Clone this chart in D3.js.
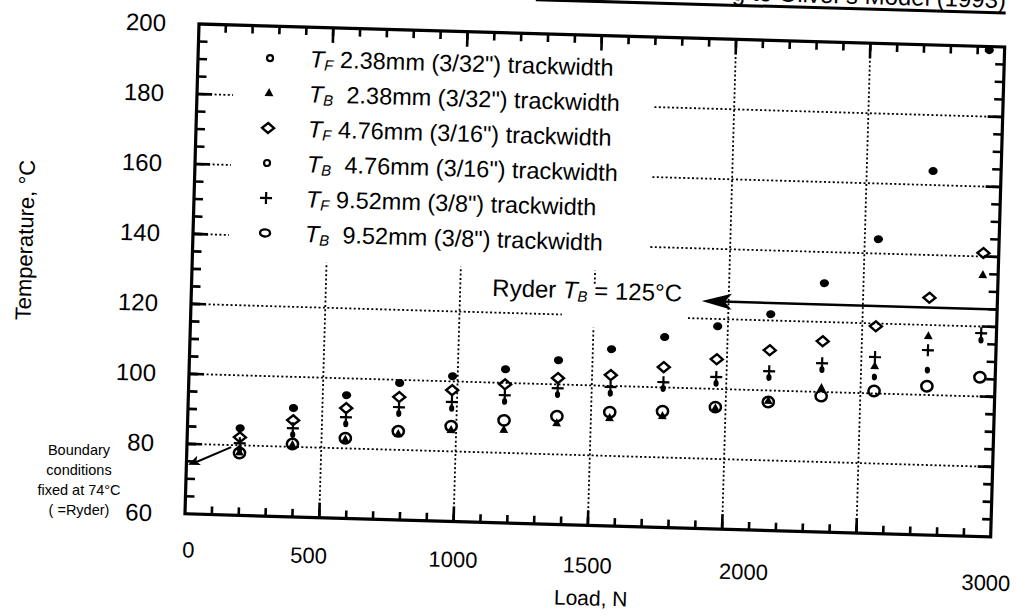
<!DOCTYPE html>
<html><head><meta charset="utf-8">
<script src="https://cdn.jsdelivr.net/npm/d3@7"></script>
<style>
html,body{margin:0;padding:0;background:#fff;}
svg{display:block;font-family:"Liberation Sans",Arimo,Arial,Helvetica,sans-serif;}
</style></head><body>
<svg id="chart" width="1030" height="616"></svg>
<script>
// ---------------- data ----------------
const loads = [196.2, 392.4, 588.6, 784.8, 981, 1177.2, 1373.4, 1569.6, 1765.8, 1962, 2158.2, 2354.4, 2550.6, 2746.8, 2943];
const tF238 = [84.9, 91.1, 95.2, 99.1, 101.5, 103.9, 106.9, 110.5, 114.4, 117.9, 121.8, 131.1, 144.1, 164.0, 199.0];
const tB238 = [78.0, 80.5, 82.5, 84.5, 86.1, 86.6, 88.9, 90.8, 91.8, 94.5, 97.0, 101.1, 107.8, 116.8, 134.7];
const tF476 = [82.3, 87.6, 91.5, 95.1, 97.5, 99.6, 101.8, 103.1, 105.8, 108.5, 111.5, 114.5, 119.2, 127.8, 141.0];
const tB476 = [79.0, 83.5, 87.0, 90.4, 92.3, 94.7, 97.1, 97.9, 99.7, 101.6, 103.7, 106.4, 104.7, 107.1, 116.1];
const tF952 = [80.6, 85.3, 88.9, 92.2, 94.1, 96.5, 98.9, 99.7, 101.5, 103.4, 105.5, 108.2, 110.4, 112.8, 118.1];
const tB952 = [77.8, 80.8, 82.9, 85.3, 87.2, 89.3, 90.9, 92.5, 93.2, 94.8, 96.7, 98.8, 100.7, 102.5, 105.5];

const seriesSub   = ["F", "B", "F", "B", "F", "B"];
const seriesText  = ["2.38mm (3/32\") trackwidth", "2.38mm (3/32\") trackwidth", "4.76mm (3/16\") trackwidth",
                     "4.76mm (3/16\") trackwidth", "9.52mm (3/8\") trackwidth", "9.52mm (3/8\") trackwidth"];
const seriesMarker = ["dot", "tri", "diamond", "sdot", "plus", "ring"];
const seriesValues = [tF238, tB238, tF476, tB476, tF952, tB952];

const xTickLabels = [0, 500, 1000, 1500, 2000, 3000];
const yTickLabels = [60, 80, 100, 120, 140, 160, 180, 200];
const xGrid = [500, 1000, 1500, 2000, 2500];
const yGrid = [80, 100, 120, 140, 160, 180];
const ryderT = 125, ryderArrowFrom = 3000, ryderArrowTo = 1900;
const boundaryT = 74;
const boundaryLines = ["Boundary", "conditions", "fixed at 74°C", "( =Ryder)"];
const titleText = "Temperature Predictions According to Oliver's Model (1993)";

// ---------------- layout ----------------
const W = 806, H = 490;
// hand-placement offsets of the x tick labels in the scanned original (px)
const xLabelShift = {0: [4, 0], 500: [-10, 2], 1000: [0, 2], 1500: [0, 4], 2000: [22, 6], 3000: [-4, 10]};

const svg = d3.select("#chart");
svg.append("rect").attr("width", 1030).attr("height", 616).attr("fill", "#fff");
const g = svg.append("g").attr("transform", "translate(199,24) rotate(1.64)");

const x = d3.scaleLinear().domain([0, 3000]).range([0, W]);
const y = d3.scaleLinear().domain([60, 200]).range([H, 0]);

// grid
const grid = g.append("g").attr("stroke", "#000").attr("stroke-width", 1.8).attr("stroke-dasharray", "2,2.4");
grid.selectAll("line.v").data(xGrid).join("line").attr("class", "v")
  .attr("x1", d => x(d)).attr("x2", d => x(d)).attr("y1", 0).attr("y2", H);
grid.selectAll("line.h").data(yGrid).join("line").attr("class", "h")
  .attr("x1", 0).attr("x2", W).attr("y1", d => y(d)).attr("y2", d => y(d));

// white masks (legend & annotation boxes)
g.append("rect").attr("x", 36).attr("y", 2).attr("width", 420).attr("height", 233).attr("fill", "#fff");
g.append("rect").attr("x", 371).attr("y", y(128.5)).attr("width", 126).attr("height", y(116.5) - y(128.5)).attr("fill", "#fff");

// ticks (inward, all four sides)
function ticks(vals, len, isX) {
  const t = g.append("g").attr("stroke", "#000").attr("stroke-width", 2.6);
  if (isX) {
    t.selectAll("line.b").data(vals).join("line").attr("class", "b")
      .attr("x1", d => x(d)).attr("x2", d => x(d)).attr("y1", H).attr("y2", H - len);
    t.selectAll("line.t").data(vals).join("line").attr("class", "t")
      .attr("x1", d => x(d)).attr("x2", d => x(d)).attr("y1", 0).attr("y2", len);
  } else {
    t.selectAll("line.l").data(vals).join("line").attr("class", "l")
      .attr("y1", d => y(d)).attr("y2", d => y(d)).attr("x1", 0).attr("x2", len);
    t.selectAll("line.r").data(vals).join("line").attr("class", "r")
      .attr("y1", d => y(d)).attr("y2", d => y(d)).attr("x1", W).attr("x2", W - len);
  }
}
ticks(d3.range(100, 3000, 100), 8, true);
ticks(xGrid, 15, true);
ticks(d3.range(65, 200, 5), 9, false);
ticks(yGrid, 15, false);

// frame
g.append("rect").attr("x", 0).attr("y", 0).attr("width", W).attr("height", H)
  .attr("fill", "none").attr("stroke", "#000").attr("stroke-width", 3.2);

// axis labels via d3 axes
const xAxis = g.append("g").attr("transform", `translate(0,${H})`)
  .call(d3.axisBottom(x).tickValues(xTickLabels).tickSize(0).tickPadding(28).tickFormat(d3.format("d")));
xAxis.select(".domain").remove();
xAxis.selectAll("text").attr("font-size", 22).attr("fill", "#000").attr("font-family", null)
  .attr("dx", d => (xLabelShift[d] || [0, 0])[0]).attr("dy", d => 0.71 * 22 + (xLabelShift[d] || [0, 0])[1]);

const yAxis = g.append("g")
  .call(d3.axisLeft(y).tickValues(yTickLabels).tickSize(0).tickPadding(33).tickFormat(d3.format("d")));
yAxis.select(".domain").remove();
yAxis.selectAll("text").attr("font-size", 24).attr("fill", "#000").attr("font-family", null);

g.append("text").attr("x", W / 2 + 5).attr("y", H + 80).attr("text-anchor", "middle")
  .attr("font-size", 21).text("Load, N");
g.append("text").attr("transform", `translate(-160,${H / 2 - 24}) rotate(-90)`)
  .attr("text-anchor", "middle").attr("font-size", 22).text("Temperature, °C");

// title (cut off at top of page, as in the scan)
g.append("text").attr("x", W).attr("y", -39).attr("text-anchor", "end")
  .attr("font-size", 24).text(titleText);
g.append("line").attr("x1", W - 470).attr("x2", W).attr("y1", -34).attr("y2", -34)
  .attr("stroke", "#000").attr("stroke-width", 3);

// markers
function marker(sel, type, cx, cy, legend) {
  const m = sel.append("g").attr("transform", `translate(${cx},${cy})`);
  if (type === "dot") {
    if (legend) m.append("circle").attr("r", 3).attr("fill", "#fff").attr("stroke", "#000").attr("stroke-width", 2.2);
    else m.append("ellipse").attr("rx", 4.6).attr("ry", 4).attr("fill", "#000");
  } else if (type === "sdot") {
    if (legend) m.append("circle").attr("r", 3).attr("fill", "#fff").attr("stroke", "#000").attr("stroke-width", 2.2);
    else m.append("ellipse").attr("rx", 2.6).attr("ry", 3.4).attr("fill", "#000");
  } else if (type === "tri") {
    m.append("path").attr("d", "M0,-5L4.4,3L-4.4,3Z").attr("fill", "#000");
  } else if (type === "diamond") {
    m.append("path").attr("d", "M0,-5L6,0L0,5L-6,0Z").attr("fill", "none")
      .attr("stroke", "#000").attr("stroke-width", 2.4);
  } else if (type === "plus") {
    m.append("path").attr("d", "M-6,0H6M0,-6V6").attr("stroke", "#000").attr("stroke-width", 2.2);
  } else if (type === "ring") {
    if (legend) m.append("ellipse").attr("rx", 5).attr("ry", 3.6).attr("fill", "none").attr("stroke", "#000").attr("stroke-width", 2.4);
    else m.append("ellipse").attr("rx", 5.6).attr("ry", 5.2).attr("fill", "none").attr("stroke", "#000").attr("stroke-width", 2.5);
  }
}

// data
const drawOrder = [5, 1, 3, 4, 2, 0];
const pts = g.append("g");
drawOrder.forEach(si => {
  seriesValues[si].forEach((v, i) => marker(pts, seriesMarker[si], x(loads[i]), y(v), false));
});

// legend
const leg = g.append("g");
seriesText.forEach((t, i) => {
  const cy = 32 + 35 * i;
  marker(leg, seriesMarker[i], 72, cy, true);
  const tx = leg.append("text").attr("x", 112).attr("y", cy + 8).attr("font-size", 23.5).style("white-space", "pre");
  tx.append("tspan").attr("font-style", "italic").text("T");
  tx.append("tspan").attr("font-style", "italic").attr("font-size", 15).attr("dy", 3).text(seriesSub[i]);
  tx.append("tspan").attr("dy", -3).text((seriesSub[i] === "B" ? "  " : " ") + t);
});

// Ryder annotation
const ry = y(ryderT);
g.append("line").attr("x1", x(ryderArrowFrom)).attr("x2", x(ryderArrowTo) + 20).attr("y1", ry).attr("y2", ry)
  .attr("stroke", "#000").attr("stroke-width", 2.6);
g.append("path").attr("transform", `translate(${x(ryderArrowTo)},${ry})`)
  .attr("d", "M0,0L30,-8L23,0L30,8Z").attr("fill", "#000");
const rt = g.append("text").attr("x", x(ryderArrowTo) - 20).attr("y", ry + 1).attr("text-anchor", "end")
  .attr("font-size", 24).style("white-space", "pre");
rt.append("tspan").text("Ryder ");
rt.append("tspan").attr("font-style", "italic").text("T");
rt.append("tspan").attr("font-style", "italic").attr("font-size", 15).attr("dy", 3).text("B");
rt.append("tspan").attr("dy", -3).text(" = 125°C");

// boundary annotation arrow
const bx1 = x(165), by1 = y(79.4), bx2 = x(6), by2 = y(boundaryT);
g.append("line").attr("x1", bx1).attr("y1", by1).attr("x2", bx2 + 6).attr("y2", by2 - 2)
  .attr("stroke", "#000").attr("stroke-width", 2);
const ang = Math.atan2(by1 - by2, bx1 - bx2) * 180 / Math.PI;
g.append("path").attr("transform", `translate(${bx2},${by2}) rotate(${ang})`)
  .attr("d", "M0,0L12,-5L9,0L12,5Z").attr("fill", "#000");

// boundary text (outside frame)
const bt = svg.append("text").attr("font-size", 14.5).attr("text-anchor", "middle");
boundaryLines.forEach((l, i) => bt.append("tspan").attr("x", 79).attr("y", 455 + 20 * i).text(l));
</script>
</body></html>
